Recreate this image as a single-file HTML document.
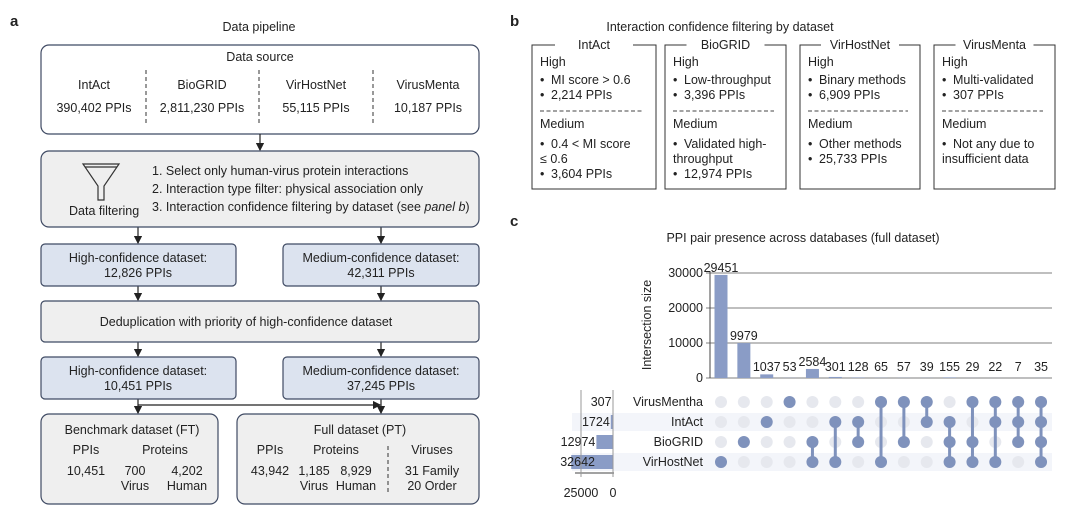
<!DOCTYPE html>
<html><head><meta charset="utf-8"><style>
html,body{margin:0;padding:0;background:#fff}
svg{display:block;font-family:"Liberation Sans",sans-serif;fill:#222}
text{font-size:12.5px}
.bx{stroke:#3f4a63;stroke-width:1.2}
</style></head><body>
<svg id="fig" width="1080" height="520" viewBox="0 0 1080 520">
<defs><marker id="ah" markerWidth="7" markerHeight="7" refX="6" refY="3.5" orient="auto"><path d="M0,0 L7,3.5 L0,7z" fill="#222"/></marker></defs>

<!-- Panel a -->
<g>
<text x="10" y="26" font-weight="bold" style="font-size:15px">a</text>
<text x="259" y="31" text-anchor="middle">Data pipeline</text>
<rect x="41" y="45" width="438" height="89" rx="8" fill="#fff" class="bx"/>
<text x="260" y="61" text-anchor="middle">Data source</text>
<g text-anchor="middle">
<text x="94" y="89">IntAct</text>
<text x="94" y="112">390,402 PPIs</text>
<text x="202" y="89">BioGRID</text>
<text x="202" y="112">2,811,230 PPIs</text>
<text x="316" y="89">VirHostNet</text>
<text x="316" y="112">55,115 PPIs</text>
<text x="428" y="89">VirusMenta</text>
<text x="428" y="112">10,187 PPIs</text>
</g>
<g stroke="#333" stroke-dasharray="4,3">
<line x1="146" y1="70" x2="146" y2="126"/><line x1="259" y1="70" x2="259" y2="126"/><line x1="373" y1="70" x2="373" y2="126"/>
</g>
<g stroke="#222" stroke-width="1.2" marker-end="url(#ah)">
<line x1="260" y1="134" x2="260" y2="150"/>
<line x1="138" y1="227" x2="138" y2="243"/><line x1="381" y1="227" x2="381" y2="243"/>
<line x1="138" y1="286" x2="138" y2="300"/><line x1="381" y1="286" x2="381" y2="300"/>
<line x1="138" y1="342" x2="138" y2="356"/><line x1="381" y1="342" x2="381" y2="356"/>
<line x1="138" y1="399" x2="138" y2="413"/><line x1="381" y1="399" x2="381" y2="413"/>
<line x1="138" y1="405" x2="380" y2="405"/>
</g>
<rect x="41" y="151" width="438" height="76" rx="8" fill="#efefef" class="bx"/>
<g fill="none" stroke="#333" stroke-width="1.2">
<path d="M83,164 L119,164 L104,186 L104,200 L98,200 L98,186 Z"/><line x1="85" y1="167" x2="117" y2="167"/>
</g>
<text x="69" y="215">Data filtering</text>
<text x="152" y="175">1. Select only human-virus protein interactions</text>
<text x="152" y="193">2. Interaction type filter: physical association only</text>
<text x="152" y="211">3. Interaction confidence filtering by dataset (see <tspan font-style="italic">panel b</tspan>)</text>

<rect x="41" y="244" width="195" height="42" rx="4" fill="#dce3ef" class="bx"/>
<rect x="283" y="244" width="196" height="42" rx="4" fill="#dce3ef" class="bx"/>
<g text-anchor="middle">
<text x="138" y="262">High-confidence dataset:</text>
<text x="138" y="277">12,826 PPIs</text>
<text x="381" y="262">Medium-confidence dataset:</text>
<text x="381" y="277">42,311 PPIs</text>
</g>
<rect x="41" y="301" width="438" height="41" rx="4" fill="#efefef" class="bx"/>
<text x="246" y="326" text-anchor="middle">Deduplication with priority of high-confidence dataset</text>
<rect x="41" y="357" width="195" height="42" rx="4" fill="#dce3ef" class="bx"/>
<rect x="283" y="357" width="196" height="42" rx="4" fill="#dce3ef" class="bx"/>
<g text-anchor="middle">
<text x="138" y="375">High-confidence dataset:</text>
<text x="138" y="390">10,451 PPIs</text>
<text x="381" y="375">Medium-confidence dataset:</text>
<text x="381" y="390">37,245 PPIs</text>
</g>
<rect x="41" y="414" width="177" height="90" rx="8" fill="#efefef" class="bx"/>
<rect x="237" y="414" width="242" height="90" rx="8" fill="#efefef" class="bx"/>
<g text-anchor="middle">
<text x="132" y="434">Benchmark dataset (FT)</text>
<text x="86" y="454">PPIs</text>
<text x="165" y="454">Proteins</text>
<text x="86" y="475">10,451</text>
<text x="135" y="475">700</text>
<text x="187" y="475">4,202</text>
<text x="135" y="490">Virus</text>
<text x="187" y="490">Human</text>
<text x="360" y="434">Full dataset (PT)</text>
<text x="270" y="454">PPIs</text>
<text x="336" y="454">Proteins</text>
<text x="432" y="454">Viruses</text>
<text x="270" y="475">43,942</text>
<text x="314" y="475">1,185</text>
<text x="356" y="475">8,929</text>
<text x="314" y="490">Virus</text>
<text x="356" y="490">Human</text>
<text x="432" y="475">31 Family</text>
<text x="432" y="490">20 Order</text>
</g>
<line x1="388" y1="446" x2="388" y2="493" stroke="#333" stroke-dasharray="4,3"/>
</g>

<!-- Panel b -->
<g>
<text x="510" y="26" style="font-size:15px" font-weight="bold">b</text>
<text x="720" y="31" text-anchor="middle">Interaction confidence filtering by dataset</text>
</g>
<g id="pb"></g>

<!-- Panel c -->
<g>
<text x="510" y="226" style="font-size:15px" font-weight="bold">c</text>
<text x="803" y="242" text-anchor="middle">PPI pair presence across databases (full dataset)</text>
<text transform="translate(651,325) rotate(-90)" text-anchor="middle">Intersection size</text>
</g>
<g id="pc"></g>
</svg>
<script>
const NS="http://www.w3.org/2000/svg";
function mk(tag,attrs,parent,txt){const e=document.createElementNS(NS,tag);for(const k in attrs)e.setAttribute(k,attrs[k]);if(txt!==undefined)e.textContent=txt;parent.appendChild(e);return e;}

// Panel b boxes
const pb=document.getElementById('pb');
const bNames=["IntAct","BioGRID","VirHostNet","VirusMenta"];
const bX=[532,665,800,934], bW=[124,121,120,121];
const bHigh=[["MI score > 0.6","2,214 PPIs"],["Low-throughput","3,396 PPIs"],["Binary methods","6,909 PPIs"],["Multi-validated","307 PPIs"]];
const bMed=[[["•","0.4 < MI score"],["","≤ 0.6"],["•","3,604 PPIs"]],[["•","Validated high-"],["","throughput"],["•","12,974 PPIs"]],[["•","Other methods"],["•","25,733 PPIs"]],[["•","Not any due to"],["","insufficient data"]]];
bNames.forEach((n,i)=>{
  const g=mk('g',{},pb);
  
  
  const x=bX[i],w=bW[i],tx=x+8;
  const r=mk('rect',{x:x,y:45,width:w,height:144,fill:'#fff',stroke:'#333','stroke-width':1},g);
  
  
  const bg=mk('rect',{x:x+w/2-39,y:38,width:78,height:14,fill:'#fff'},g);
  
  
  const t=mk('text',{x:x+w/2,y:49,'text-anchor':'middle'},g,n);
  
  
  const hl=mk('text',{x:tx,y:66},g,'High');
  
  
  bHigh[i].forEach((s,j)=>{
    const b=mk('text',{x:tx,y:84+j*15},g,'•');
    
    
    const e=mk('text',{x:tx+11,y:84+j*15},g,s);
    
    });
  const d=mk('line',{x1:tx,y1:111,x2:x+w-12,y2:111,stroke:'#444','stroke-dasharray':'4,2.5'},g);
  
  
  const ml=mk('text',{x:tx,y:128},g,'Medium');
  
  
  bMed[i].forEach((s,j)=>{
    if(s[0]){const b=mk('text',{x:tx,y:148+j*15},g,'•');
      
      }
    const e=mk('text',{x:s[0]?tx+11:tx,y:148+j*15},g,s[1]);
    
    });
});

// Panel c upset data
const setNames=["VirusMentha","IntAct","BioGRID","VirHostNet"];
const setSizes=[307,1724,12974,32642];
const interSizes=[29451,9979,1037,53,2584,301,128,65,57,39,155,29,22,7,35];
const combos=[[3],[2],[1],[0],[2,3],[1,3],[1,2],[0,3],[0,2],[0,1],[1,2,3],[0,2,3],[0,1,3],[0,1,2],[0,1,2,3]];
const yTicks=[0,10000,20000,30000];
const setTicks=[25000,0];

const pc=document.getElementById('pc');
const y0=378, yScale=v=>y0-v*(105/30000);
const xCol=i=>721+i*22.86;
const rowY=r=>402+r*20;
const sx=v=>613-v*(32/25000);
const barC='#8a9cc6', dotOff='#e6e8ee', dotOn='#7f92bc';

[1,3].forEach(r=>{const e=mk('rect',{x:572,y:rowY(r)-9,width:480,height:18,fill:'#f3f5fa'},pc);
  
  });
yTicks.forEach(t=>{
  const l=mk('line',{x1:706,y1:yScale(t),x2:1052,y2:yScale(t),stroke:'#999','stroke-width':1.3},pc);
  
  
  const tx=mk('text',{x:703,y:yScale(t)+4,'text-anchor':'end'},pc,String(t));
  
  
});
const ax=mk('line',{x1:710,y1:yScale(30000)-2,x2:710,y2:y0,stroke:'#444','stroke-width':1},pc);


interSizes.forEach((v,i)=>{
  const y=yScale(v);
  const b=mk('rect',{x:xCol(i)-6.5,y:y,width:13,height:y0-y,fill:barC},pc);
  
  
  const t=mk('text',{x:xCol(i),y:Math.min(y,y0-4)-3,'text-anchor':'middle'},pc,String(v));
  
  
});
setNames.forEach((n,r)=>{
  const t=mk('text',{x:703,y:rowY(r)+4,'text-anchor':'end'},pc,n);
  
  
});
combos.forEach((c,i)=>{
  const x=xCol(i);
  for(let r=0;r<4;r++){
    const d=mk('circle',{cx:x,cy:rowY(r),r:6,fill:dotOff},pc);
    
    
  }
  const mn=Math.min(...c),mx=Math.max(...c);
  if(mx>mn){const l=mk('line',{x1:x,y1:rowY(mn),x2:x,y2:rowY(mx),stroke:dotOn,'stroke-width':3},pc);
    
    }
  c.forEach(r=>{const d=mk('circle',{cx:x,cy:rowY(r),r:6,fill:dotOn},pc);
    
    });
});
setSizes.forEach((v,r)=>{
  const x=sx(v);
  const b=mk('rect',{x:x,y:rowY(r)-7,width:613-x,height:14,fill:barC},pc);
  
  
  const t=mk('text',{x:Math.max(x-1,595),y:rowY(r)+4,'text-anchor':'end'},pc,String(v));
  
  
});
const sa=mk('line',{x1:575,y1:473,x2:614,y2:473,stroke:'#444'},pc);


setTicks.forEach(t=>{
  const l=mk('line',{x1:sx(t),y1:390,x2:sx(t),y2:477,stroke:'#999'},pc);
  
  
  const tx=mk('text',{x:sx(t),y:497,'text-anchor':'middle'},pc,String(t));
  
  
});
</script>
</body></html>
